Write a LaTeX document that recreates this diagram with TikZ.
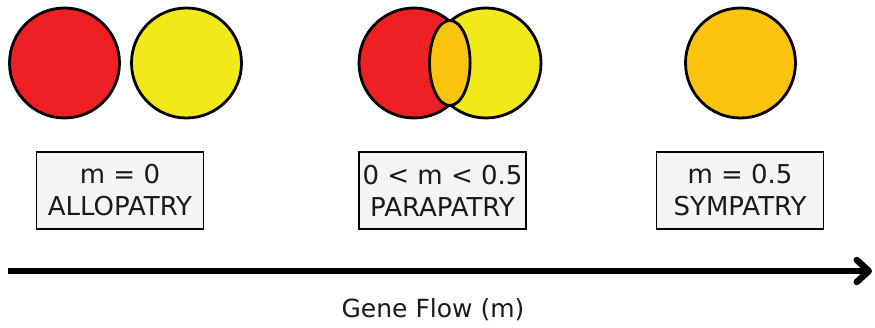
\documentclass[tikz,border=0pt]{standalone}
\usepackage{fontspec}
\setmainfont{DejaVu Sans}
\usetikzlibrary{arrows.meta}
\definecolor{popred}{HTML}{EE2024}
\definecolor{popyellow}{HTML}{F1E91A}
\definecolor{poporange}{HTML}{FCC30F}
\definecolor{boxfill}{HTML}{F3F4F6}
\definecolor{inktext}{HTML}{1A1A1A}
\tikzset{
  pop/.style={circle, draw=black, line width=2.8pt, minimum size=110pt, inner sep=0pt},
  labelbox/.style={draw=black, line width=1.8pt, fill=boxfill, minimum width=167pt,
    minimum height=77pt, inner sep=0pt, align=center, text=inktext,
    font=\fontsize{26}{32}\selectfont},
  axislabel/.style={text=inktext, font=\fontsize{25}{32}\selectfont},
}
\begin{document}
\begin{tikzpicture}[x=1pt, y=-1pt]
  \useasboundingbox (0,0) rectangle (875,328);

  % allopatry: two separate populations
  \node[pop, fill=popred] (allo1) at (64.5,63) {};
  \node[pop, fill=popyellow] (allo2) at (186.5,63) {};

  % parapatry: overlapping populations with a hybrid zone
  \node[pop, fill=popred] (para1) at (414,63) {};
  \node[pop, fill=popyellow] (para2) at (486,63) {};
  \draw[line width=2.8pt, fill=poporange] (449.8,63) ellipse (20.3pt and 42.5pt);

  % sympatry: one mixed population
  \node[pop, fill=poporange] (sym) at (740.5,63) {};

  % regime labels
  \node[labelbox] (allobox) at (120,190.5) {m = 0\\ALLOPATRY};
  \node[labelbox] (parabox) at (442.5,190.5) {0 < m < 0.5\\PARAPATRY};
  \node[labelbox] (symbox) at (740,190.5) {m = 0.5\\SYMPATRY};

  % gene flow axis
  \coordinate (axisstart) at (8,271);
  \coordinate (axisend) at (872,271);
  \draw[line width=6.5pt, -{Straight Barb[length=12pt, width=22pt, line cap=round, line join=round]}]
    (axisstart) -- (axisend);
  \node[axislabel, anchor=base] (axistitle) at (433,318) {Gene Flow (m)};
\end{tikzpicture}
\end{document}
